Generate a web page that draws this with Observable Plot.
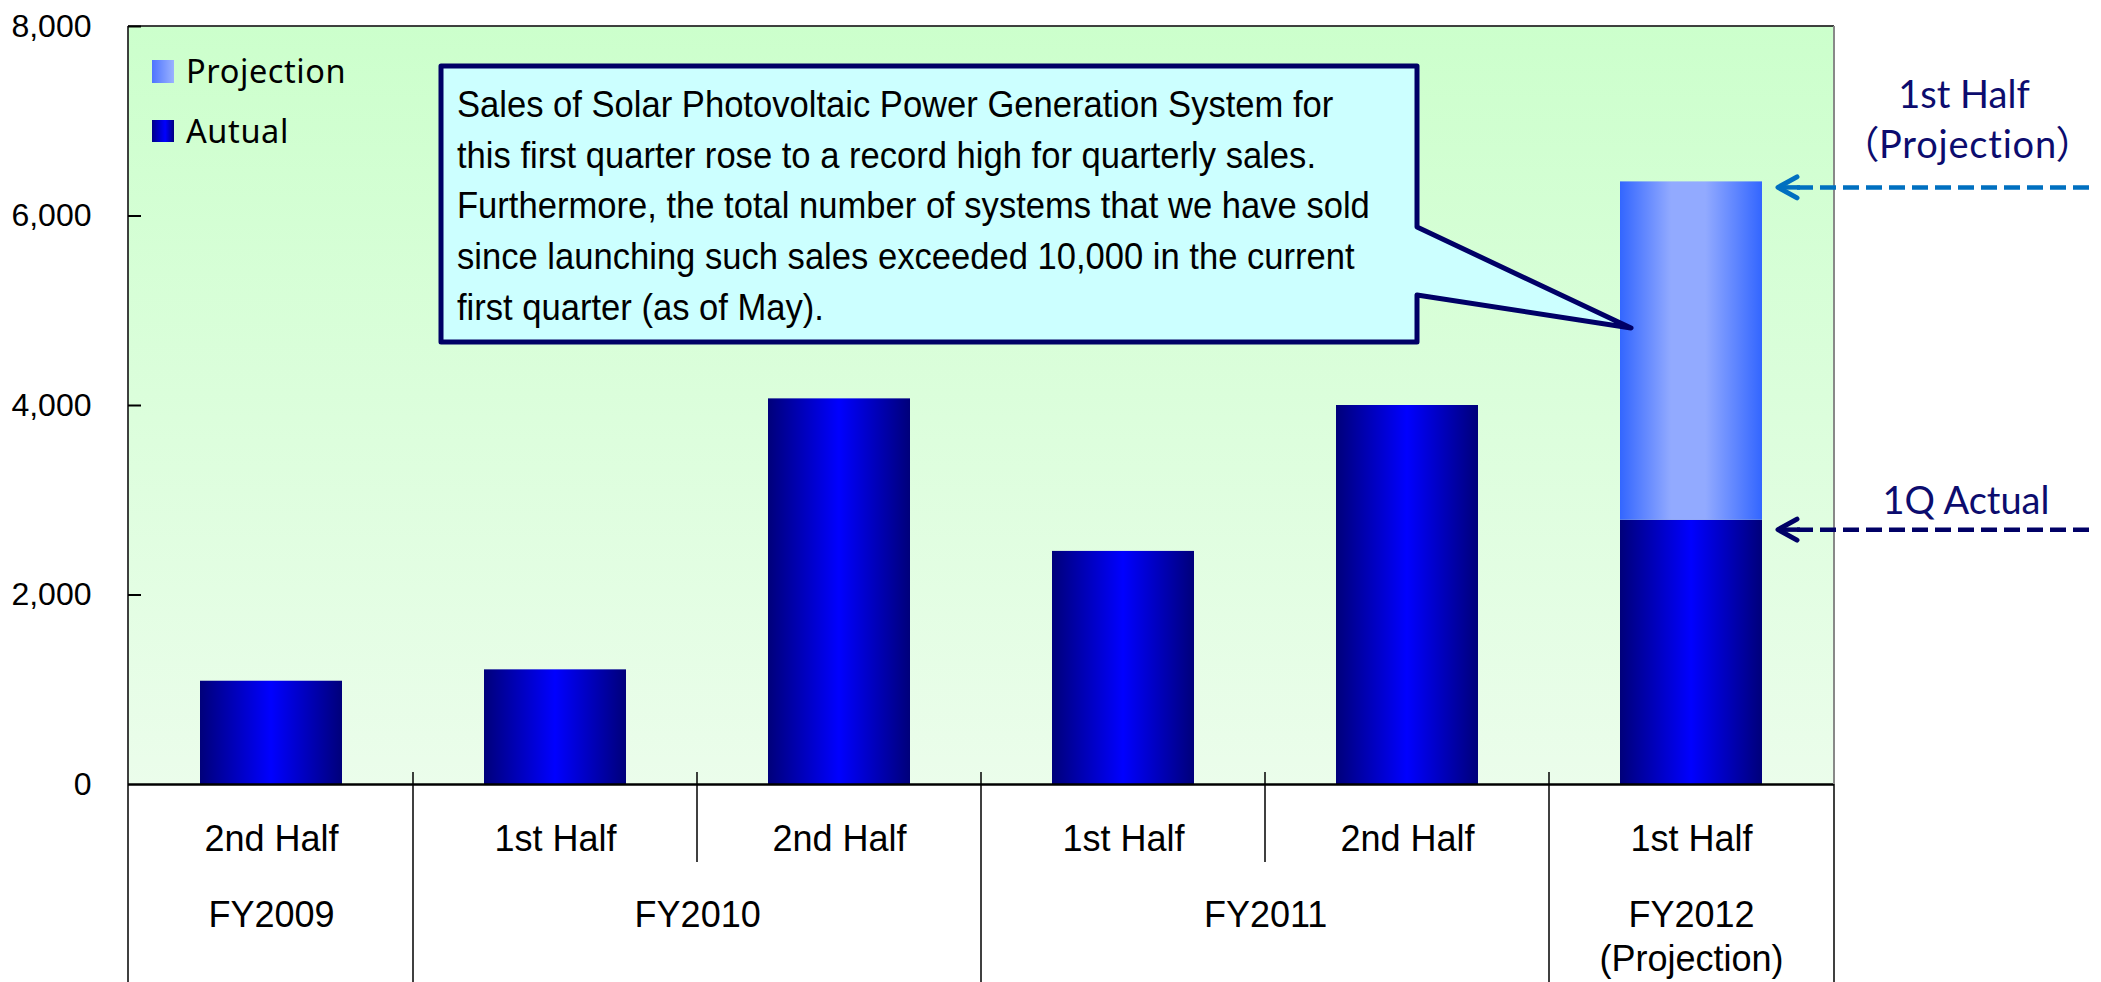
<!DOCTYPE html>
<html><head><meta charset="utf-8">
<script src="https://cdn.jsdelivr.net/npm/d3@7"></script>
<script src="https://cdn.jsdelivr.net/npm/@observablehq/plot@0.6"></script>
<style>html,body{margin:0;padding:0;background:#fff}</style>
</head><body><div id="chart"></div>
<script>
// ---- data ----
const periods = ["2nd Half", "1st Half", "2nd Half", "1st Half", "2nd Half", "1st Half"];
const fiscalYears = ["FY2009", "FY2010", "FY2010", "FY2011", "FY2011", "FY2012"];
const fiscalYearLabels = ["FY2009", "FY2010", "FY2011", "FY2012\n(Projection)"];
const actualValues = [1090, 1210, 4070, 2460, 4000, 2790];
const projectionValues = [null, null, null, null, null, 6360];
const yTicks = [0, 2000, 4000, 6000, 8000];
const legendLabels = ["Projection", "Autual"];
const calloutLines = [
  "Sales of Solar Photovoltaic Power Generation System for",
  "this first quarter rose to a record high for quarterly sales.",
  "Furthermore, the total number of systems that we have sold",
  "since launching such sales exceeded 10,000 in the current",
  "first quarter (as of May)."
];
const noteProjection = ["1st Half", "（Projection）"];
const noteActual = "1Q Actual";

// ---- layout ----
const W = 2101, H = 982;
const mL = 128, mR = 267, mT = 26, mB = 198;
const plotW = W - mL - mR;
const step = plotW / periods.length;

const keys = periods.map((p, i) => fiscalYears[i] + "|" + p);
const rows = keys.map((k, i) => ({key: k, period: periods[i], fy: fiscalYears[i], actual: actualValues[i], projection: projectionValues[i]}));
const groups = [];
rows.forEach((r, i) => {
  const last = groups[groups.length - 1];
  if (last && last.fy === r.fy) last.n++;
  else groups.push({fy: r.fy, first: r.key, n: 1, label: fiscalYearLabels[groups.length]});
});

const NAVY = "#000066";
const LABEL = "#0C0C6E";

function defs() {
  const d = d3.create("svg:defs");
  const bg = d.append("linearGradient").attr("id", "bg").attr("x1", 0).attr("y1", 0).attr("x2", 0).attr("y2", 1);
  bg.append("stop").attr("offset", 0).attr("stop-color", "#CCFFCC");
  bg.append("stop").attr("offset", 1).attr("stop-color", "#EBFDEB");
  const ga = d.append("linearGradient").attr("id", "gA").attr("x1", 0).attr("x2", 1).attr("y1", 0).attr("y2", 0);
  [[0, "#00007A"], [0.5, "#0000FF"], [1, "#00007A"]].forEach(([o, c]) => ga.append("stop").attr("offset", o).attr("stop-color", c));
  const gp = d.append("linearGradient").attr("id", "gP").attr("x1", 0).attr("x2", 1).attr("y1", 0).attr("y2", 0);
  [[0, "#3366FF"], [0.36, "#92AAFF"], [0.6, "#92AAFF"], [1, "#3366FF"]].forEach(([o, c]) => gp.append("stop").attr("offset", o).attr("stop-color", c));
  const gpl = d.append("linearGradient").attr("id", "gPL").attr("x1", 0).attr("x2", 1).attr("y1", 0).attr("y2", 0);
  [[0, "#4E74FF"], [1, "#9AB2FF"]].forEach(([o, c]) => gpl.append("stop").attr("offset", o).attr("stop-color", c));
  const gal = d.append("linearGradient").attr("id", "gAL").attr("x1", 0).attr("x2", 1).attr("y1", 0).attr("y2", 0);
  [[0, "#00008A"], [0.6, "#0000FF"], [1, "#000080"]].forEach(([o, c]) => gal.append("stop").attr("offset", o).attr("stop-color", c));
  return d.node();
}

function tableLines(index, scales, values, dims) {
  const x = scales.x;
  const st = x(keys[1]) - x(keys[0]);
  const left = dims.marginLeft, right = dims.width - dims.marginRight;
  const top = dims.marginTop, bottom = dims.height - dims.marginBottom;
  const g = d3.create("svg:g").attr("fill", "none");
  g.append("line").attr("x1", left).attr("x2", right).attr("y1", top).attr("y2", top).attr("stroke", "#000").attr("stroke-width", 1.5);
  g.append("line").attr("x1", left).attr("x2", left).attr("y1", top).attr("y2", dims.height).attr("stroke", "#000").attr("stroke-width", 1.5);
  g.append("line").attr("x1", right).attr("x2", right).attr("y1", top).attr("y2", bottom).attr("stroke", "#888").attr("stroke-width", 2);
  g.append("line").attr("x1", right).attr("x2", right).attr("y1", bottom).attr("y2", dims.height).attr("stroke", "#000").attr("stroke-width", 1.5);
  rows.forEach((r, i) => {
    if (i === 0) return;
    const bx = x(r.key) - st * 0.25;
    const newGroup = rows[i - 1].fy !== r.fy;
    g.append("line").attr("x1", bx).attr("x2", bx).attr("y1", bottom - 12)
      .attr("y2", newGroup ? dims.height : bottom + 78).attr("stroke", "#000").attr("stroke-width", 1.5);
  });
  return g.node();
}

function overlay(index, scales, values, dims) {
  const x = scales.x, y = scales.y;
  const g = d3.create("svg:g");
  // legend
  const lg = g.append("g").attr("text-anchor", "start");
  [["url(#gPL)", 60, 23], ["url(#gAL)", 120, 22]].forEach(([f, yy, h], i) => {
    lg.append("rect").attr("x", 152).attr("y", yy).attr("width", 22).attr("height", h).attr("fill", f);
    lg.append("text").attr("x", 186).attr("y", yy + h / 2 + 11.5)
      .style("font-family", "'Noto Sans', sans-serif").style("font-size", "32.5px").style("letter-spacing", "0.6px")
      .attr("fill", "#000").text(legendLabels[i]);
  });
  // callout
  const bx0 = 441, by0 = 66, bx1 = 1417, by1 = 342;
  const tipX = x(keys[5]) + 11, tipY = 328;
  g.append("path")
    .attr("d", `M${bx0},${by0}H${bx1}V227L${tipX},${tipY}L${bx1},295V${by1}H${bx0}Z`)
    .attr("fill", "#CCFFFF").attr("stroke", NAVY).attr("stroke-width", 5).attr("stroke-linejoin", "round");
  const tg = g.append("g").attr("transform", `translate(457,0) scale(0.935,1)`).attr("text-anchor", "start")
    .style("font-family", "'Liberation Sans', Arial, sans-serif").style("font-size", "37px").attr("fill", "#000");
  calloutLines.forEach((t, i) => tg.append("text").attr("x", 0).attr("y", 117 + i * 50.7).text(t));
  // arrows
  const arrow = (yy, color) => {
    g.append("line").attr("x1", 1797).attr("x2", 2090).attr("y1", yy).attr("y2", yy)
      .attr("stroke", color).attr("stroke-width", 4.5).attr("stroke-dasharray", "16 7");
    g.append("path").attr("d", `M1797,${yy - 10.5}L1778,${yy}L1797,${yy + 10.5}`).attr("fill", "none")
      .attr("stroke", color).attr("stroke-width", 5).attr("stroke-linecap", "round").attr("stroke-linejoin", "round");
    g.append("line").attr("x1", 1780).attr("x2", 1800).attr("y1", yy).attr("y2", yy).attr("stroke", color).attr("stroke-width", 4.5);
  };
  arrow(y(projectionValues[5]) + 6, "#0070C0");
  arrow(y(actualValues[5]) + 10, NAVY);
  // notes
  const ng = g.append("g").style("font-family", "Lato, 'Noto Sans CJK JP', sans-serif").style("font-size", "38px")
    .attr("fill", LABEL).attr("text-anchor", "middle").style("font-feature-settings", "'palt'");
  ng.append("text").attr("x", 1964).attr("y", 108).text(noteProjection[0]);
  ng.append("text").attr("x", 1968).attr("y", 158).style("letter-spacing", "0.8px").text(noteProjection[1]);
  ng.append("text").attr("x", 1966).attr("y", 514).text(noteActual);
  return g.node();
}

const chart = Plot.plot({
  width: W, height: H,
  marginLeft: mL, marginRight: mR, marginTop: mT, marginBottom: mB,
  style: {fontFamily: "Liberation Sans, Arial, sans-serif", background: "#fff", overflow: "visible"},
  x: {type: "band", domain: keys, paddingInner: 0.5, paddingOuter: 0.25, axis: null},
  y: {domain: [0, 8000], axis: null},
  marks: [
    defs,
    Plot.frame({fill: "url(#bg)", stroke: null}),
    Plot.barY(rows, {x: "key", y1: 0, y2: "actual", fill: "url(#gA)"}),
    Plot.barY(rows.filter(d => d.projection != null), {x: "key", y1: "actual", y2: "projection", fill: "url(#gP)"}),
    Plot.ruleY(yTicks.slice(1), {y: d => d, insetRight: plotW - 13, stroke: "#000", strokeWidth: 2}),
    Plot.ruleY([0], {stroke: "#000", strokeWidth: 2.5}),
    Plot.axisY({ticks: yTicks, tickSize: 0, tickPadding: 37, tickFormat: d3.format(","), fontSize: 32, fill: "#000"}),
    tableLines,
    Plot.text(rows, {x: "key", text: "period", frameAnchor: "bottom", lineAnchor: "middle", dy: 55, fontSize: 36, fill: "#000"}),
    ...groups.map(gr => Plot.text([gr], {x: "first", text: "label", frameAnchor: "bottom", lineAnchor: "top",
      dy: 111, dx: (gr.n - 1) * step / 2, fontSize: 36, lineHeight: 1.222, fill: "#000"})),
    overlay
  ]
});
document.getElementById("chart").appendChild(chart);
</script>
</body></html>
